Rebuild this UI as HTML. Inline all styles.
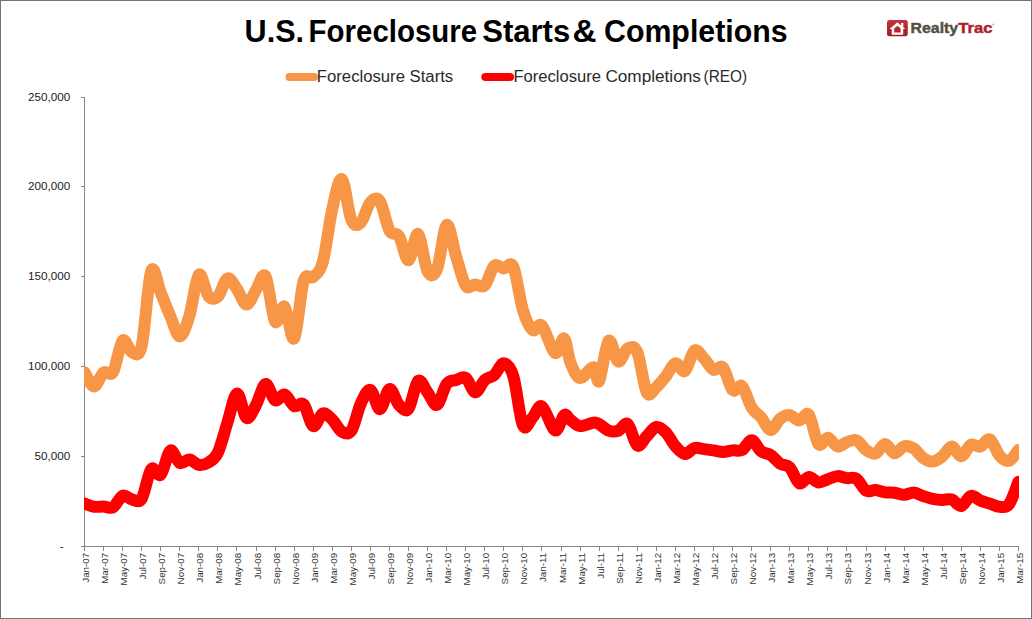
<!DOCTYPE html>
<html><head><meta charset="utf-8"><title>U.S. Foreclosure Starts &amp; Completions</title>
<style>
html,body{margin:0;padding:0;background:#fff;}
body{width:1032px;height:619px;overflow:hidden;position:relative;font-family:"Liberation Sans",sans-serif;}
svg{position:absolute;left:0;top:0;display:block;}
text{font-family:"Liberation Sans",sans-serif;}
</style></head><body>
<svg width="1032" height="619" viewBox="0 0 1032 619">
<rect x="0" y="0" width="1032" height="619" fill="#fff"/>
<rect x="0.5" y="0.5" width="1031" height="618" fill="none" stroke="#747474" stroke-width="1" shape-rendering="crispEdges"/>
<defs><clipPath id="plot"><rect x="84" y="90" width="935" height="470"/></clipPath></defs>
<g id="title" font-size="30.6" font-weight="bold" fill="#000">
<text x="244.6" y="42.3" textLength="59.5" lengthAdjust="spacingAndGlyphs">U.S.</text>
<text x="308.6" y="42.3" textLength="168.5" lengthAdjust="spacingAndGlyphs">Foreclosure</text>
<text x="482.2" y="42.3" textLength="88" lengthAdjust="spacingAndGlyphs">Starts</text>
<text x="572.6" y="42.3" textLength="24" lengthAdjust="spacingAndGlyphs">&amp;</text>
<text x="604" y="42.3" textLength="183.6" lengthAdjust="spacingAndGlyphs">Completions</text>
</g>
<g id="legend" font-size="16" fill="#2a2a2a">
<line x1="289.6" y1="77" x2="313.9" y2="77" stroke="#F79646" stroke-width="8.2" stroke-linecap="round"/>
<text x="316.8" y="81.7" textLength="136.4" lengthAdjust="spacingAndGlyphs">Foreclosure Starts</text>
<line x1="485.4" y1="77" x2="510" y2="77" stroke="#FF0000" stroke-width="8.2" stroke-linecap="round"/>
<text x="513.4" y="81.7" textLength="87.5" lengthAdjust="spacingAndGlyphs">Foreclosure</text>
<text x="605.4" y="81.7" textLength="95.5" lengthAdjust="spacingAndGlyphs">Completions</text>
<text x="703.6" y="81.7" textLength="43.5" lengthAdjust="spacingAndGlyphs">(REO)</text>
</g>
<g id="axes" stroke="#868686" stroke-width="1" fill="none" shape-rendering="crispEdges">
<line x1="84.5" y1="97" x2="84.5" y2="546.5"/>
<line x1="84.5" y1="546.5" x2="1018.5" y2="546.5"/>
<line x1="84.50" y1="546.5" x2="84.50" y2="550.5"/><line x1="103.56" y1="546.5" x2="103.56" y2="550.5"/><line x1="122.62" y1="546.5" x2="122.62" y2="550.5"/><line x1="141.68" y1="546.5" x2="141.68" y2="550.5"/><line x1="160.74" y1="546.5" x2="160.74" y2="550.5"/><line x1="179.81" y1="546.5" x2="179.81" y2="550.5"/><line x1="198.87" y1="546.5" x2="198.87" y2="550.5"/><line x1="217.93" y1="546.5" x2="217.93" y2="550.5"/><line x1="236.99" y1="546.5" x2="236.99" y2="550.5"/><line x1="256.05" y1="546.5" x2="256.05" y2="550.5"/><line x1="275.11" y1="546.5" x2="275.11" y2="550.5"/><line x1="294.17" y1="546.5" x2="294.17" y2="550.5"/><line x1="313.23" y1="546.5" x2="313.23" y2="550.5"/><line x1="332.30" y1="546.5" x2="332.30" y2="550.5"/><line x1="351.36" y1="546.5" x2="351.36" y2="550.5"/><line x1="370.42" y1="546.5" x2="370.42" y2="550.5"/><line x1="389.48" y1="546.5" x2="389.48" y2="550.5"/><line x1="408.54" y1="546.5" x2="408.54" y2="550.5"/><line x1="427.60" y1="546.5" x2="427.60" y2="550.5"/><line x1="446.66" y1="546.5" x2="446.66" y2="550.5"/><line x1="465.72" y1="546.5" x2="465.72" y2="550.5"/><line x1="484.79" y1="546.5" x2="484.79" y2="550.5"/><line x1="503.85" y1="546.5" x2="503.85" y2="550.5"/><line x1="522.91" y1="546.5" x2="522.91" y2="550.5"/><line x1="541.97" y1="546.5" x2="541.97" y2="550.5"/><line x1="561.03" y1="546.5" x2="561.03" y2="550.5"/><line x1="580.09" y1="546.5" x2="580.09" y2="550.5"/><line x1="599.15" y1="546.5" x2="599.15" y2="550.5"/><line x1="618.21" y1="546.5" x2="618.21" y2="550.5"/><line x1="637.28" y1="546.5" x2="637.28" y2="550.5"/><line x1="656.34" y1="546.5" x2="656.34" y2="550.5"/><line x1="675.40" y1="546.5" x2="675.40" y2="550.5"/><line x1="694.46" y1="546.5" x2="694.46" y2="550.5"/><line x1="713.52" y1="546.5" x2="713.52" y2="550.5"/><line x1="732.58" y1="546.5" x2="732.58" y2="550.5"/><line x1="751.64" y1="546.5" x2="751.64" y2="550.5"/><line x1="770.70" y1="546.5" x2="770.70" y2="550.5"/><line x1="789.77" y1="546.5" x2="789.77" y2="550.5"/><line x1="808.83" y1="546.5" x2="808.83" y2="550.5"/><line x1="827.89" y1="546.5" x2="827.89" y2="550.5"/><line x1="846.95" y1="546.5" x2="846.95" y2="550.5"/><line x1="866.01" y1="546.5" x2="866.01" y2="550.5"/><line x1="885.07" y1="546.5" x2="885.07" y2="550.5"/><line x1="904.13" y1="546.5" x2="904.13" y2="550.5"/><line x1="923.19" y1="546.5" x2="923.19" y2="550.5"/><line x1="942.26" y1="546.5" x2="942.26" y2="550.5"/><line x1="961.32" y1="546.5" x2="961.32" y2="550.5"/><line x1="980.38" y1="546.5" x2="980.38" y2="550.5"/><line x1="999.44" y1="546.5" x2="999.44" y2="550.5"/><line x1="1018.50" y1="546.5" x2="1018.50" y2="550.5"/>
<line x1="80.6" y1="546.5" x2="84.5" y2="546.5"/><line x1="80.6" y1="456.5" x2="84.5" y2="456.5"/><line x1="80.6" y1="366.5" x2="84.5" y2="366.5"/><line x1="80.6" y1="276.5" x2="84.5" y2="276.5"/><line x1="80.6" y1="186.5" x2="84.5" y2="186.5"/><line x1="80.6" y1="97.5" x2="84.5" y2="97.5"/>
</g>
<g id="ylabels" font-size="11.7" fill="#1c1c1c"><text x="63.7" y="550.1" text-anchor="end">-</text><text x="70.2" y="460.1" text-anchor="end">50,000</text><text x="70.2" y="370.1" text-anchor="end">100,000</text><text x="70.2" y="280.1" text-anchor="end">150,000</text><text x="70.2" y="190.1" text-anchor="end">200,000</text><text x="70.2" y="101.1" text-anchor="end">250,000</text></g>
<g id="xlabels" font-size="9.8" fill="#333"><text transform="translate(89.00,552.8) rotate(-90)" text-anchor="end">Jan-07</text><text transform="translate(108.06,552.8) rotate(-90)" text-anchor="end">Mar-07</text><text transform="translate(127.12,552.8) rotate(-90)" text-anchor="end">May-07</text><text transform="translate(146.18,552.8) rotate(-90)" text-anchor="end">Jul-07</text><text transform="translate(165.24,552.8) rotate(-90)" text-anchor="end">Sep-07</text><text transform="translate(184.31,552.8) rotate(-90)" text-anchor="end">Nov-07</text><text transform="translate(203.37,552.8) rotate(-90)" text-anchor="end">Jan-08</text><text transform="translate(222.43,552.8) rotate(-90)" text-anchor="end">Mar-08</text><text transform="translate(241.49,552.8) rotate(-90)" text-anchor="end">May-08</text><text transform="translate(260.55,552.8) rotate(-90)" text-anchor="end">Jul-08</text><text transform="translate(279.61,552.8) rotate(-90)" text-anchor="end">Sep-08</text><text transform="translate(298.67,552.8) rotate(-90)" text-anchor="end">Nov-08</text><text transform="translate(317.73,552.8) rotate(-90)" text-anchor="end">Jan-09</text><text transform="translate(336.80,552.8) rotate(-90)" text-anchor="end">Mar-09</text><text transform="translate(355.86,552.8) rotate(-90)" text-anchor="end">May-09</text><text transform="translate(374.92,552.8) rotate(-90)" text-anchor="end">Jul-09</text><text transform="translate(393.98,552.8) rotate(-90)" text-anchor="end">Sep-09</text><text transform="translate(413.04,552.8) rotate(-90)" text-anchor="end">Nov-09</text><text transform="translate(432.10,552.8) rotate(-90)" text-anchor="end">Jan-10</text><text transform="translate(451.16,552.8) rotate(-90)" text-anchor="end">Mar-10</text><text transform="translate(470.22,552.8) rotate(-90)" text-anchor="end">May-10</text><text transform="translate(489.29,552.8) rotate(-90)" text-anchor="end">Jul-10</text><text transform="translate(508.35,552.8) rotate(-90)" text-anchor="end">Sep-10</text><text transform="translate(527.41,552.8) rotate(-90)" text-anchor="end">Nov-10</text><text transform="translate(546.47,552.8) rotate(-90)" text-anchor="end">Jan-11</text><text transform="translate(565.53,552.8) rotate(-90)" text-anchor="end">Mar-11</text><text transform="translate(584.59,552.8) rotate(-90)" text-anchor="end">May-11</text><text transform="translate(603.65,552.8) rotate(-90)" text-anchor="end">Jul-11</text><text transform="translate(622.71,552.8) rotate(-90)" text-anchor="end">Sep-11</text><text transform="translate(641.78,552.8) rotate(-90)" text-anchor="end">Nov-11</text><text transform="translate(660.84,552.8) rotate(-90)" text-anchor="end">Jan-12</text><text transform="translate(679.90,552.8) rotate(-90)" text-anchor="end">Mar-12</text><text transform="translate(698.96,552.8) rotate(-90)" text-anchor="end">May-12</text><text transform="translate(718.02,552.8) rotate(-90)" text-anchor="end">Jul-12</text><text transform="translate(737.08,552.8) rotate(-90)" text-anchor="end">Sep-12</text><text transform="translate(756.14,552.8) rotate(-90)" text-anchor="end">Nov-12</text><text transform="translate(775.20,552.8) rotate(-90)" text-anchor="end">Jan-13</text><text transform="translate(794.27,552.8) rotate(-90)" text-anchor="end">Mar-13</text><text transform="translate(813.33,552.8) rotate(-90)" text-anchor="end">May-13</text><text transform="translate(832.39,552.8) rotate(-90)" text-anchor="end">Jul-13</text><text transform="translate(851.45,552.8) rotate(-90)" text-anchor="end">Sep-13</text><text transform="translate(870.51,552.8) rotate(-90)" text-anchor="end">Nov-13</text><text transform="translate(889.57,552.8) rotate(-90)" text-anchor="end">Jan-14</text><text transform="translate(908.63,552.8) rotate(-90)" text-anchor="end">Mar-14</text><text transform="translate(927.69,552.8) rotate(-90)" text-anchor="end">May-14</text><text transform="translate(946.76,552.8) rotate(-90)" text-anchor="end">Jul-14</text><text transform="translate(965.82,552.8) rotate(-90)" text-anchor="end">Sep-14</text><text transform="translate(984.88,552.8) rotate(-90)" text-anchor="end">Nov-14</text><text transform="translate(1003.94,552.8) rotate(-90)" text-anchor="end">Jan-15</text><text transform="translate(1023.00,552.8) rotate(-90)" text-anchor="end">Mar-15</text></g>
<g clip-path="url(#plot)" fill="none" stroke-width="12" stroke-linejoin="round" stroke-linecap="round">
<path stroke="#F79646" d="M84.50 372.26 C86.09 374.63 90.85 386.45 94.03 386.48 C97.21 386.51 100.38 374.87 103.56 372.44 C106.74 370.01 109.91 377.21 113.09 371.90 C116.27 366.59 119.45 343.82 122.62 340.58 C125.80 337.34 128.98 351.59 132.15 352.46 C135.33 353.33 138.51 359.36 141.68 345.80 C144.86 332.24 148.04 279.95 151.21 271.10 C154.39 262.25 157.57 285.20 160.74 292.70 C163.92 300.20 167.10 308.81 170.28 316.10 C173.45 323.39 176.63 336.44 179.81 336.44 C182.98 336.44 186.16 326.39 189.34 316.10 C192.51 305.81 195.69 278.06 198.87 274.70 C202.04 271.34 205.22 292.28 208.40 295.94 C211.57 299.60 214.75 299.57 217.93 296.66 C221.11 293.75 224.28 279.74 227.46 278.48 C230.64 277.22 233.81 284.75 236.99 289.10 C240.17 293.45 243.34 304.43 246.52 304.58 C249.70 304.73 252.87 294.71 256.05 290.00 C259.23 285.29 262.40 271.07 265.58 276.32 C268.76 281.57 271.94 316.43 275.11 321.50 C278.29 326.57 281.47 303.92 284.64 306.74 C287.82 309.56 291.00 342.74 294.17 338.42 C297.35 334.10 300.53 291.08 303.70 280.82 C306.88 270.56 310.06 279.98 313.23 276.86 C316.41 273.74 319.59 273.41 322.77 262.10 C325.94 250.79 329.12 222.80 332.30 209.00 C335.47 195.20 338.65 177.47 341.83 179.30 C345.00 181.13 348.18 212.78 351.36 219.98 C354.53 227.18 357.71 225.47 360.89 222.50 C364.06 219.53 367.24 205.70 370.42 202.16 C373.60 198.62 376.77 196.52 379.95 201.26 C383.13 206.00 386.30 224.75 389.48 230.60 C392.66 236.45 395.83 231.41 399.01 236.36 C402.19 241.31 405.36 260.69 408.54 260.30 C411.72 259.91 414.89 232.16 418.07 234.02 C421.25 235.88 424.43 265.64 427.60 271.46 C430.78 277.28 433.96 276.68 437.13 268.94 C440.31 261.20 443.49 227.06 446.66 225.02 C449.84 222.98 453.02 246.62 456.19 256.70 C459.37 266.78 462.55 280.85 465.72 285.50 C468.90 290.15 472.08 284.60 475.26 284.60 C478.43 284.60 481.61 288.65 484.79 285.50 C487.96 282.35 491.14 268.55 494.32 265.70 C497.49 262.85 500.67 268.19 503.85 268.40 C507.02 268.61 510.20 260.03 513.38 266.96 C516.55 273.89 519.73 299.48 522.91 309.98 C526.09 320.48 529.26 327.32 532.44 329.96 C535.62 332.60 538.19 321.98 541.97 325.82 C545.75 329.66 551.44 350.87 555.12 353.00 C558.81 355.13 561.51 336.95 564.08 338.60 C566.65 340.25 567.89 356.33 570.56 362.90 C573.23 369.47 576.28 377.30 580.09 378.02 C583.90 378.74 590.26 366.74 593.43 367.22 C596.61 367.70 596.61 385.31 599.15 380.90 C601.69 376.49 605.51 344.00 608.68 340.76 C611.86 337.52 615.04 360.17 618.21 361.46 C621.39 362.75 624.57 350.06 627.74 348.50 C630.92 346.94 634.10 344.75 637.28 352.10 C640.45 359.45 643.63 386.75 646.81 392.60 C649.98 398.45 653.16 389.90 656.34 387.20 C659.51 384.50 662.69 380.39 665.87 376.40 C669.04 372.41 672.22 364.16 675.40 363.26 C678.57 362.36 681.75 373.13 684.93 371.00 C688.11 368.87 691.28 352.58 694.46 350.48 C697.64 348.38 700.81 355.16 703.99 358.40 C707.17 361.64 710.34 368.39 713.52 369.92 C716.70 371.45 719.87 364.22 723.05 367.58 C726.23 370.94 729.40 386.96 732.58 390.08 C735.76 393.20 738.94 383.39 742.11 386.30 C745.29 389.21 748.47 402.35 751.64 407.54 C754.82 412.73 758.00 413.69 761.17 417.44 C764.35 421.19 767.53 429.83 770.70 430.04 C773.88 430.25 777.06 421.19 780.23 418.70 C783.41 416.21 786.59 414.80 789.77 415.10 C792.94 415.40 796.12 420.56 799.30 420.50 C802.47 420.44 805.65 410.81 808.83 414.74 C812.00 418.67 815.18 440.24 818.36 444.08 C821.53 447.92 824.71 437.39 827.89 437.78 C831.06 438.17 834.24 445.70 837.42 446.42 C840.60 447.14 843.77 443.12 846.95 442.10 C850.13 441.08 853.30 439.01 856.48 440.30 C859.66 441.59 862.83 447.62 866.01 449.84 C869.19 452.06 872.36 454.58 875.54 453.62 C878.72 452.66 881.89 444.14 885.07 444.08 C888.25 444.02 891.43 452.90 894.60 453.26 C897.78 453.62 900.96 447.05 904.13 446.24 C907.31 445.43 910.49 446.45 913.66 448.40 C916.84 450.35 920.02 455.75 923.19 457.94 C926.37 460.13 929.55 461.78 932.72 461.54 C935.90 461.30 939.08 458.99 942.26 456.50 C945.43 454.01 948.61 446.63 951.79 446.60 C954.96 446.57 958.14 456.62 961.32 456.32 C964.49 456.02 967.67 446.42 970.85 444.80 C974.02 443.18 977.20 447.50 980.38 446.60 C983.55 445.70 986.73 437.93 989.91 439.40 C993.09 440.87 996.26 451.85 999.44 455.42 C1002.62 458.99 1005.79 461.72 1008.97 460.82 C1012.15 459.92 1016.91 451.82 1018.50 450.02"/>
<path stroke="#FF0000" d="M84.50 503.48 C86.09 504.02 90.85 506.21 94.03 506.72 C97.21 507.23 100.38 506.45 103.56 506.54 C106.74 506.63 109.91 509.06 113.09 507.26 C116.27 505.46 119.45 497.03 122.62 495.74 C125.80 494.45 128.98 499.01 132.15 499.52 C135.33 500.03 138.51 503.87 141.68 498.80 C144.86 493.73 148.04 473.12 151.21 469.10 C154.39 465.08 157.57 477.74 160.74 474.68 C163.92 471.62 167.10 452.69 170.28 450.74 C173.45 448.79 176.63 461.51 179.81 462.98 C182.98 464.45 186.16 459.26 189.34 459.56 C192.51 459.86 195.69 464.30 198.87 464.78 C202.04 465.26 205.22 464.48 208.40 462.44 C211.57 460.40 214.75 459.20 217.93 452.54 C221.11 445.88 224.28 432.32 227.46 422.48 C230.64 412.64 233.81 394.28 236.99 393.50 C240.17 392.72 243.34 415.88 246.52 417.80 C249.70 419.72 252.87 410.66 256.05 405.02 C259.23 399.38 262.40 384.74 265.58 383.96 C268.76 383.18 271.94 398.57 275.11 400.34 C278.29 402.11 281.47 393.62 284.64 394.58 C287.82 395.54 291.00 404.45 294.17 406.10 C297.35 407.75 300.53 401.15 303.70 404.48 C306.88 407.81 310.06 424.58 313.23 426.08 C316.41 427.58 319.59 414.56 322.77 413.48 C325.94 412.40 329.12 416.57 332.30 419.60 C335.47 422.63 338.65 429.80 341.83 431.66 C345.00 433.52 348.18 435.47 351.36 430.76 C354.53 426.05 357.71 410.21 360.89 403.40 C364.06 396.59 367.24 388.94 370.42 389.90 C373.60 390.86 376.77 409.31 379.95 409.16 C383.13 409.01 386.30 389.69 389.48 389.00 C392.66 388.31 395.83 401.72 399.01 405.02 C402.19 408.32 405.36 412.82 408.54 408.80 C411.72 404.78 414.89 383.60 418.07 380.90 C421.25 378.20 424.43 388.61 427.60 392.60 C430.78 396.59 433.96 406.31 437.13 404.84 C440.31 403.37 443.49 387.92 446.66 383.78 C449.84 379.64 453.02 380.99 456.19 380.00 C459.37 379.01 462.55 375.80 465.72 377.84 C468.90 379.88 472.08 391.88 475.26 392.24 C478.43 392.60 481.61 382.88 484.79 380.00 C487.96 377.12 491.14 377.75 494.32 374.96 C497.49 372.17 500.67 363.02 503.85 363.26 C507.02 363.50 510.20 366.05 513.38 376.40 C516.55 386.75 519.73 418.46 522.91 425.36 C526.09 432.26 529.26 420.95 532.44 417.80 C535.62 414.65 538.19 404.36 541.97 406.46 C545.75 408.56 551.44 428.96 555.12 430.40 C558.81 431.84 561.51 416.84 564.08 415.10 C566.65 413.36 567.89 418.13 570.56 419.96 C573.23 421.79 576.28 425.63 580.09 426.08 C583.90 426.53 590.26 422.99 593.43 422.66 C596.61 422.33 596.61 422.78 599.15 424.10 C601.69 425.42 605.51 429.47 608.68 430.58 C611.86 431.69 615.04 431.84 618.21 430.76 C621.39 429.68 624.57 421.64 627.74 424.10 C630.92 426.56 634.10 443.51 637.28 445.52 C640.45 447.53 643.63 439.25 646.81 436.16 C649.98 433.07 653.16 427.58 656.34 426.98 C659.51 426.38 662.69 429.35 665.87 432.56 C669.04 435.77 672.22 442.67 675.40 446.24 C678.57 449.81 681.75 453.68 684.93 453.98 C688.11 454.28 691.28 448.85 694.46 448.04 C697.64 447.23 700.81 448.73 703.99 449.12 C707.17 449.51 710.34 449.90 713.52 450.38 C716.70 450.86 719.87 452.00 723.05 452.00 C726.23 452.00 729.40 450.71 732.58 450.38 C735.76 450.05 738.94 451.70 742.11 450.02 C745.29 448.34 748.47 440.09 751.64 440.30 C754.82 440.51 758.00 448.82 761.17 451.28 C764.35 453.74 767.53 452.99 770.70 455.06 C773.88 457.13 777.06 461.63 780.23 463.70 C783.41 465.77 786.59 464.21 789.77 467.48 C792.94 470.75 796.12 481.73 799.30 483.32 C802.47 484.91 805.65 477.17 808.83 477.02 C812.00 476.87 815.18 482.06 818.36 482.42 C821.53 482.78 824.71 480.23 827.89 479.18 C831.06 478.13 834.24 476.30 837.42 476.12 C840.60 475.94 843.77 477.68 846.95 478.10 C850.13 478.52 853.30 476.54 856.48 478.64 C859.66 480.74 862.83 488.81 866.01 490.70 C869.19 492.59 872.36 489.71 875.54 489.98 C878.72 490.25 881.89 491.87 885.07 492.32 C888.25 492.77 891.43 492.26 894.60 492.68 C897.78 493.10 900.96 494.87 904.13 494.84 C907.31 494.81 910.49 492.29 913.66 492.50 C916.84 492.71 920.02 495.05 923.19 496.10 C926.37 497.15 929.55 498.17 932.72 498.80 C935.90 499.43 939.08 499.76 942.26 499.88 C945.43 500.00 948.61 498.50 951.79 499.52 C954.96 500.54 958.14 506.60 961.32 506.00 C964.49 505.40 967.67 496.82 970.85 495.92 C974.02 495.02 977.20 499.31 980.38 500.60 C983.55 501.89 986.73 502.64 989.91 503.66 C993.09 504.68 996.26 506.60 999.44 506.72 C1002.62 506.84 1005.79 508.55 1008.97 504.38 C1012.15 500.21 1016.91 485.48 1018.50 481.70"/>
</g>
<g id="logo">
<defs><linearGradient id="lg" x1="0" y1="0" x2="0" y2="1"><stop offset="0" stop-color="#C7353B"/><stop offset="1" stop-color="#A01C22"/></linearGradient></defs>
<rect x="887" y="20" width="20.8" height="16.3" rx="2.4" fill="url(#lg)"/>
<path d="M897.4 22.2 L889.6 28.9 L891.7 28.9 L891.7 34.8 L903.2 34.8 L903.2 28.9 L905.3 28.9 L903.3 27.2 L903.3 23 L901.2 23 L901.2 25.4 Z M894.2 28.6 L897.4 25.8 L900.6 28.6 L900.6 32.6 L894.2 32.6 Z" fill="#fff" fill-rule="evenodd"/>
<text x="910.6" y="33.3" font-size="15" font-weight="bold" fill="#574F45" stroke="#574F45" stroke-width="0.45" textLength="47.6" lengthAdjust="spacingAndGlyphs">Realty</text>
<text x="958.2" y="33.3" font-size="15" font-weight="bold" fill="#B01E26" stroke="#B01E26" stroke-width="0.45" textLength="34.2" lengthAdjust="spacingAndGlyphs">Trac</text>
<circle cx="993.3" cy="24.6" r="0.8" fill="none" stroke="#B9777A" stroke-width="0.5"/>
</g>
</svg>
</body></html>
